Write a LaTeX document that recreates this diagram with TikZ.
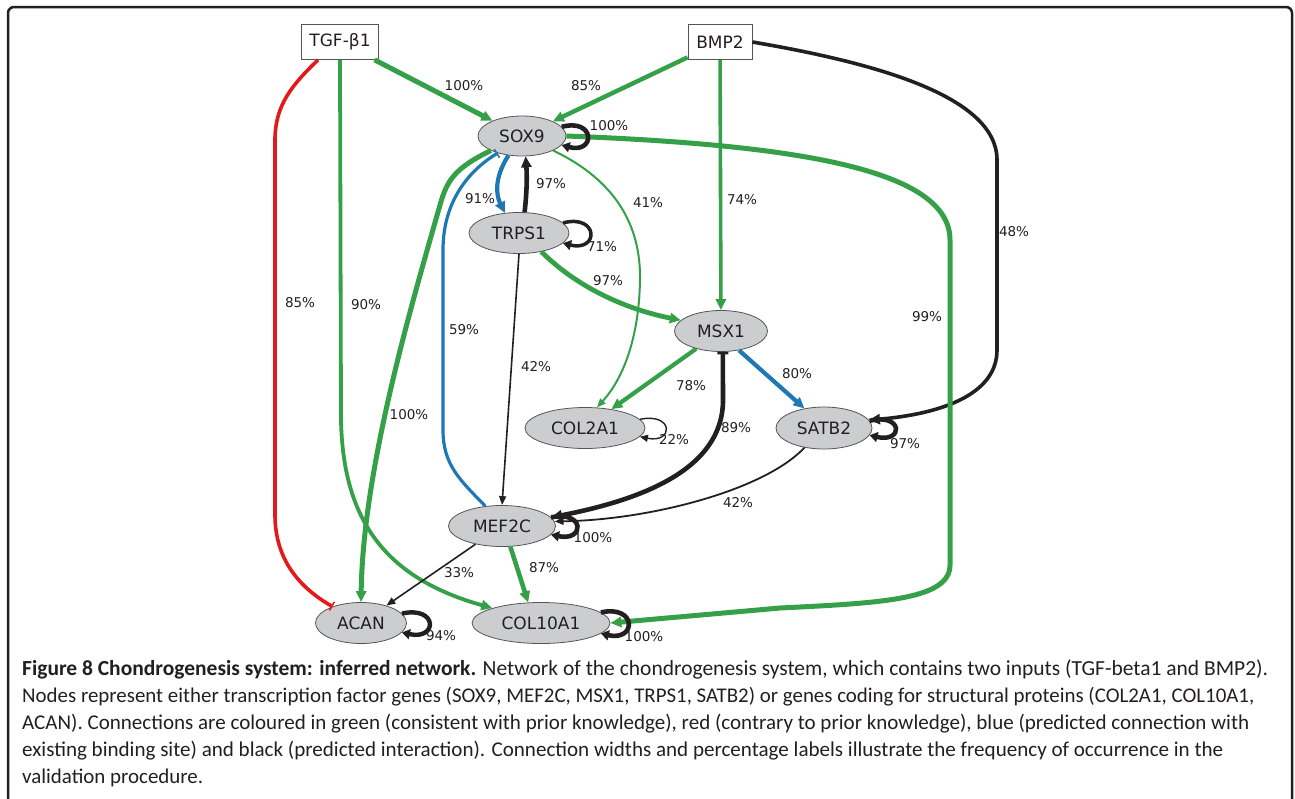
\documentclass[tikz,border=0pt]{standalone}
\usepackage{fontspec}
\usepackage{graphicx}
\setmainfont{DejaVu Sans}
\newfontfamily\capfont{Carlito}
\usetikzlibrary{shapes.geometric,arrows.meta}
\definecolor{eg}{HTML}{34A048}
\definecolor{er}{HTML}{E31A1C}
\definecolor{eb}{HTML}{1F78B4}
\definecolor{ek}{HTML}{231F20}
\definecolor{ink}{HTML}{231F20}
\definecolor{nodefill}{HTML}{CCCDCF}
\definecolor{nodeline}{HTML}{555555}
% one caption line, set to a given width
\newcommand{\capline}[2]{\resizebox{#1}{!}{\capfont\fontsize{18}{18}\selectfont #2}}
\begin{document}
\begin{tikzpicture}[x=1pt,y=-1pt,
  gene/.style={ellipse, draw=nodeline, line width=0.8pt, fill=nodefill, inner sep=0pt,
    font=\fontsize{17}{17}\selectfont, text=ink},
  input/.style={rectangle, draw=nodeline, line width=0.8pt, fill=white, inner sep=0pt,
    font=\fontsize{17}{17}\selectfont, text=ink},
  pct/.style={font=\fontsize{13.5}{13.5}\selectfont, text=ink, inner sep=0pt},
  act/.style={-{Triangle[length=11pt,width=10pt]}},
  actthin/.style={-{Triangle[length=9pt,width=7pt]}},
  loopk/.style={draw=ek, -{Triangle[length=8pt,width=10pt]}},
  captext/.style={anchor=base west, inner sep=0pt, text=ink},
]
\useasboundingbox (0,0) rectangle (1295,798);
% figure frame, open at the bottom
\draw[ek, line width=2.5pt, rounded corners=6pt] (8,800) -- (8,7) -- (1292,7) -- (1292,800);

% inputs
\node[input, minimum width=77pt, minimum height=35pt] (tgf) at (340,42) {TGF-β1};
\node[input, minimum width=64pt, minimum height=35pt] (bmp2) at (720,42) {BMP2};
% genes
\node[gene, minimum width=88pt, minimum height=40pt] (sox9) at (522,136) {SOX9};
\node[gene, minimum width=100pt, minimum height=41pt] (trps1) at (519,233) {TRPS1};
\node[gene, minimum width=93pt, minimum height=41pt] (msx1) at (721,331) {MSX1};
\node[gene, minimum width=120pt, minimum height=41pt] (col2a1) at (585,428) {COL2A1};
\node[gene, minimum width=96pt, minimum height=42pt] (satb2) at (824,428) {SATB2};
\node[gene, minimum width=107pt, minimum height=41pt] (mef2c) at (502,526) {MEF2C};
\node[gene, minimum width=91pt, minimum height=41pt] (acan) at (361,623) {ACAN};
\node[gene, minimum width=138pt, minimum height=41pt] (col10a1) at (541,623) {COL10A1};

% TGF-beta1 edges
\draw[er, line width=3.6pt, -{Bar[width=10pt,line width=1.6pt]}]
  ([xshift=-22pt]tgf.south) .. controls (292,85) and (275,105) .. (275,140)
  -- (275,515) .. controls (275,560) and (300,588) .. (acan.150);
\draw[eg, line width=3.8pt, act] (tgf.south) -- (341,420)
  .. controls (343,520) and (385,578) .. (col10a1.163);
\draw[eg, line width=5pt, act] (tgf) -- (sox9);

% BMP2 edges
\draw[eg, line width=4.4pt, act] (bmp2) -- (sox9);
\draw[ek, line width=3.6pt, act] (bmp2.east) .. controls (870,62) and (997,95) .. (997,160)
  -- (997,350) .. controls (997,395) and (940,414) .. (satb2.10);
\draw[eg, line width=5pt, act] (sox9.east) .. controls (800,145) and (950,170) .. (950,240)
  -- (950,565) .. controls (950,600) and (880,603) .. (780,608) -- (col10a1.east);
\draw[eg, line width=3.6pt, act] (bmp2) -- (msx1);

% SOX9 edges
\draw[eg, line width=5pt, act] (sox9.-155) .. controls (455,168) and (447,180) .. (440,205)
  .. controls (410,310) and (363,470) .. (acan.north);
\draw[eb, line width=3.2pt, -{Bar[width=10pt,line width=1.6pt]}]
  (mef2c.130) .. controls (460,480) and (443,465) .. (443,430)
  -- (443,250) .. controls (443,200) and (470,170) .. (sox9.-145);
\draw[eb, line width=4.2pt, act] (sox9.-125) .. controls (494,178) and (496,195) .. (trps1.125);
\draw[ek, line width=4.6pt, act] (trps1.75) .. controls (527,192) and (527,175) .. (sox9.-80);
\draw[eg, line width=2pt, actthin] (sox9.-25) .. controls (615,180) and (641,225) .. (640,280)
  .. controls (639,340) and (622,380) .. (col2a1.60);

% TRPS1 edges
\draw[eg, line width=4.8pt, act] (trps1.-40) .. controls (580,290) and (630,310) .. (msx1.165);
\draw[ek, line width=1.6pt, actthin] (trps1.south) -- (mef2c.north);

% MSX1 edges
\draw[eg, line width=4.2pt, act] (msx1) -- (col2a1);
\draw[eb, line width=4.2pt, act] (msx1.-47) -- (satb2.135);
\draw[ek, line width=4.6pt, {Bar[width=11pt,line width=2.5pt]}-{Triangle[length=11pt,width=10pt]}]
  (msx1.-85) -- (723,400) .. controls (723,470) and (640,500) .. (mef2c.10);

% SATB2 and MEF2C edges
\draw[ek, line width=1.8pt, actthin] (satb2.-135) .. controls (765,490) and (650,520) .. (mef2c.5);
\draw[ek, line width=1.6pt, actthin] (mef2c) -- (acan);
\draw[eg, line width=4.6pt, act] (mef2c.-68) -- (col10a1.122);

% self-regulation loops
\draw[loopk, line width=4.6pt] (sox9.13) .. controls +(34,-9) and +(34,9) .. (sox9.-13);
\draw[loopk, line width=3.5pt] (trps1.13) .. controls +(36,-9) and +(36,9) .. (trps1.-13);
\draw[draw=ek, line width=1.4pt, -{Triangle[length=8pt,width=7pt]}]
  (col2a1.9) .. controls +(34,-7) and +(34,7) .. (col2a1.-9);
\draw[loopk, line width=4.5pt] (satb2.9) .. controls +(34,-8) and +(34,8) .. (satb2.-9);
\draw[loopk, line width=4.6pt] (mef2c.10) .. controls +(34,-7) and +(34,7) .. (mef2c.-10);
\draw[loopk, line width=4.4pt] (acan.13) .. controls +(36,-8) and +(36,8) .. (acan.-13);
\draw[loopk, line width=4.6pt] (col10a1.10) .. controls +(36,-8) and +(36,8) .. (col10a1.-10);

% frequency labels
\node[pct] (p1) at (464,86) {100\%};
\node[pct] (p2) at (586,86) {85\%};
\node[pct] (p3) at (609,126) {100\%};
\node[pct] (p4) at (551,184) {97\%};
\node[pct] (p5) at (480,199) {91\%};
\node[pct] (p6) at (648,203) {41\%};
\node[pct] (p7) at (742,200) {74\%};
\node[pct] (p8) at (602,247) {71\%};
\node[pct] (p9) at (608,281) {97\%};
\node[pct] (p10) at (464,330) {59\%};
\node[pct] (p11) at (536,367) {42\%};
\node[pct] (p12) at (691,386) {78\%};
\node[pct] (p13) at (797,374) {80\%};
\node[pct] (p14) at (736,428) {89\%};
\node[pct] (p15) at (674,440) {22\%};
\node[pct] (p16) at (1014,232) {48\%};
\node[pct] (p17) at (927,317) {99\%};
\node[pct] (p18) at (905,444) {97\%};
\node[pct] (p19) at (738,503) {42\%};
\node[pct] (p20) at (593,538) {100\%};
\node[pct] (p21) at (459,573) {33\%};
\node[pct] (p22) at (544,568) {87\%};
\node[pct] (p23) at (441,636) {94\%};
\node[pct] (p24) at (644,637) {100\%};
\node[pct] (p25) at (300,303) {85\%};
\node[pct] (p26) at (366,305) {90\%};
\node[pct] (p27) at (409,415) {100\%};

% caption, one node per line
\node[captext] (c1) at (22,675) {\capline{1246pt}{\textbf{Figure 8 Chondrogenesis system: inferred network.} Network of the chondrogenesis system, which contains two inputs (TGF-beta1 and BMP2).}};
\node[captext] (c2) at (22,702) {\capline{1232pt}{Nodes represent either transcription factor genes (SOX9, MEF2C, MSX1, TRPS1, SATB2) or genes coding for structural proteins (COL2A1, COL10A1,}};
\node[captext] (c3) at (22,729) {\capline{1227pt}{ACAN). Connections are coloured in green (consistent with prior knowledge), red (contrary to prior knowledge), blue (predicted connection with}};
\node[captext] (c4) at (22,756) {\capline{1201pt}{existing binding site) and black (predicted interaction). Connection widths and percentage labels illustrate the frequency of occurrence in the}};
\node[captext] (c5) at (22,783) {\capline{181pt}{validation procedure.}};
\end{tikzpicture}
\end{document}
